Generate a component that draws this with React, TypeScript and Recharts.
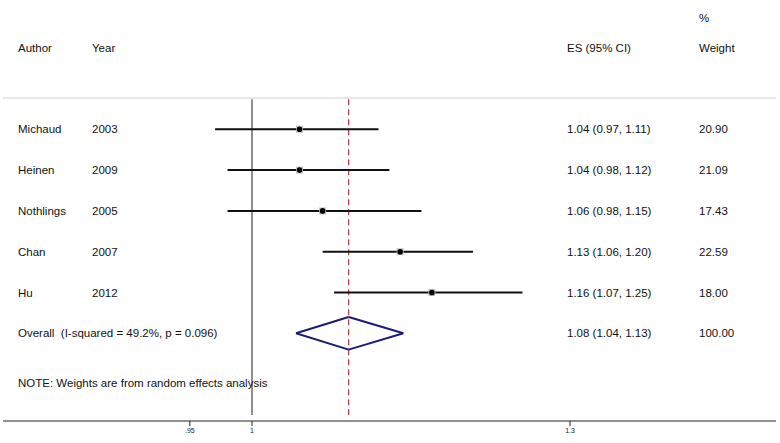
import { ErrorBar, ReferenceLine, Scatter, ScatterChart, XAxis, YAxis } from 'recharts'

const authors = ['Michaud', 'Heinen', 'Nothlings', 'Chan', 'Hu']
const years = ['2003', '2009', '2005', '2007', '2012']
const es = [1.04, 1.04, 1.06, 1.13, 1.16]
const lo = [0.97, 0.98, 0.98, 1.06, 1.07]
const hi = [1.11, 1.12, 1.15, 1.2, 1.25]
const weights = ['20.90', '21.09', '17.43', '22.59', '18.00']

// pooled estimate as printed, and as drawn (read from diamond position)
const overallText = { es: 1.08, lo: 1.04, hi: 1.13, weight: '100.00' }
const overallDrawn = { es: 1.083, lo: 1.037, hi: 1.133 }
const heterogeneity = 'Overall  (I-squared = 49.2%, p = 0.096)'
const note = 'NOTE: Weights are from random effects analysis'

const xTicks = [0.95, 1, 1.3]
const xTickLabels = ['.95', '1', '1.3']

const FONT = '"Liberation Sans", Arial, Helvetica, sans-serif'
const COL = { author: 18, year: 92, es: 567, weight: 699 }

const fmt = (v: number) => v.toFixed(2)

const studies = authors.map((a, i) => ({
  x: es[i],
  y: i + 1,
  ci: [es[i] - lo[i], hi[i] - es[i]],
}))

type TextRow = { x: number; y: number; cells: { col: number; text: string }[] }

const textRows: TextRow[] = [
  { x: 1, y: -1.73, cells: [{ col: COL.weight, text: '%' }] },
  {
    x: 1,
    y: -1,
    cells: [
      { col: COL.author, text: 'Author' },
      { col: COL.year, text: 'Year' },
      { col: COL.es, text: 'ES (95% CI)' },
      { col: COL.weight, text: 'Weight' },
    ],
  },
  ...authors.map((a, i) => ({
    x: 1,
    y: i + 1,
    cells: [
      { col: COL.author, text: a },
      { col: COL.year, text: years[i] },
      { col: COL.es, text: `${fmt(es[i])} (${fmt(lo[i])}, ${fmt(hi[i])})` },
      { col: COL.weight, text: weights[i] },
    ],
  })),
  {
    x: 1,
    y: 6,
    cells: [
      { col: COL.author, text: heterogeneity },
      { col: COL.es, text: `${fmt(overallText.es)} (${fmt(overallText.lo)}, ${fmt(overallText.hi)})` },
      { col: COL.weight, text: overallText.weight },
    ],
  },
  { x: 1, y: 7.21, cells: [{ col: COL.author, text: note }] },
]

function TextShape(props: any) {
  const { cy, payload } = props
  return (
    <g>
      {payload.cells.map((c: { col: number; text: string }, k: number) => (
        <text
          key={k}
          x={c.col}
          y={cy}
          dy="0.35em"
          fontFamily={FONT}
          fontSize={11.5}
          fill="#111"
          style={{ whiteSpace: 'pre' }}
        >
          {c.text}
        </text>
      ))}
    </g>
  )
}

function PointShape(props: any) {
  const { cx, cy } = props
  return (
    <g>
      <rect x={cx - 3.5} y={cy - 3.5} width={7} height={7} fill="#c4c4c4" />
      <circle cx={cx} cy={cy} r={2.8} fill="#000" />
    </g>
  )
}

const diamond = [
  { x: overallDrawn.lo, y: 6 },
  { x: overallDrawn.es, y: 5.6 },
  { x: overallDrawn.hi, y: 6 },
  { x: overallDrawn.es, y: 6.4 },
]

export default function App() {
  return (
    <div style={{ position: 'fixed', left: 0, top: 0, width: 780, height: 443, background: '#fff' }}>
      <ScatterChart width={780} height={443} margin={{ top: 0, right: 4, left: 3, bottom: 0 }}>
        <XAxis
          type="number"
          dataKey="x"
          scale="log"
          domain={[0.8143, 1.5408]}
          allowDataOverflow
          ticks={xTicks}
          interval={0}
          tickFormatter={(v: number) => xTickLabels[xTicks.indexOf(v)] ?? String(v)}
          axisLine={{ stroke: '#222', strokeWidth: 1.2 }}
          tickLine={{ stroke: '#222' }}
          tickSize={5}
          height={22}
          tick={{ fill: '#222', fontSize: 7, fontFamily: FONT }}
        />
        <YAxis type="number" dataKey="y" hide reversed domain={[-2.17, 8.15]} allowDataOverflow />

        <ReferenceLine y={0.233} stroke="#cfcfcf" strokeWidth={1} />
        <ReferenceLine
          segment={[
            { x: 1, y: 0.26 },
            { x: 1, y: 8.0 },
          ]}
          stroke="#444"
          strokeWidth={1.2}
        />
        <ReferenceLine
          segment={[
            { x: overallDrawn.es, y: 0.26 },
            { x: overallDrawn.es, y: 8.0 },
          ]}
          stroke="#a83a3a"
          strokeWidth={1.2}
          strokeDasharray="6 4"
        />
        {diamond.map((p, i) => (
          <ReferenceLine
            key={`d${i}`}
            segment={[p, diamond[(i + 1) % diamond.length]]}
            stroke="#1c1c78"
            strokeWidth={2}
          />
        ))}

        <Scatter data={studies} shape={<PointShape />} isAnimationActive={false}>
          <ErrorBar dataKey="ci" direction="x" width={0} stroke="#111" strokeWidth={2} />
        </Scatter>
        <Scatter data={textRows} shape={<TextShape />} isAnimationActive={false} />
      </ScatterChart>
    </div>
  )
}
